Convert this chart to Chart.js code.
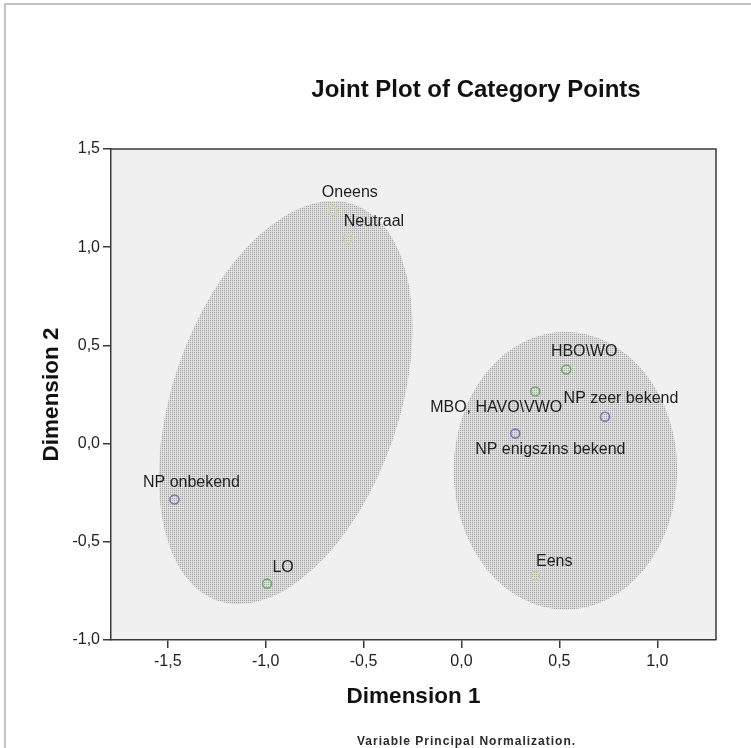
<!DOCTYPE html>
<html>
<head>
<meta charset="utf-8">
<title>Joint Plot of Category Points</title>
<script src="https://cdn.jsdelivr.net/npm/chart.js@4/dist/chart.umd.min.js"></script>
<style>
  html, body { margin: 0; padding: 0; background: #ffffff; }
  canvas { display: block; }
</style>
</head>
<body>
<canvas id="plot" width="751" height="748"></canvas>
<script>
// Category quantifications (Dimension 1, Dimension 2)
const opinionLabels = ['Oneens', 'Neutraal', 'Eens'];
const opinionDim1 = [-0.657, -0.580, 0.377];
const opinionDim2 = [1.186, 1.043, -0.672];

const educationLabels = ['HBO\\WO', 'MBO, HAVO\\VWO', 'LO'];
const educationDim1 = [0.535, 0.377, -0.993];
const educationDim2 = [0.377, 0.265, -0.713];

const awarenessLabels = ['NP zeer bekend', 'NP enigszins bekend', 'NP onbekend'];
const awarenessDim1 = [0.733, 0.275, -1.466];
const awarenessDim2 = [0.137, 0.051, -0.285];

// Axis ticks
const xTicks = [-1.5, -1.0, -0.5, 0.0, 0.5, 1.0];
const yTicks = [-1.0, -0.5, 0.0, 0.5, 1.0, 1.5];

// Cluster ellipses in data units: centre, half-axes (horizontal, vertical), clockwise tilt in degrees
const clusterCentreX = [-0.898, 0.531];
const clusterCentreY = [0.209, -0.138];
const clusterHalfX = [0.579, 0.571];
const clusterHalfY = [1.066, 0.707];
const clusterTilt = [18.9, 0];

// Label placement around each marker (pixels): [dx, dy, align]
const labelPlacement = {
  'Oneens': [17, -18, 'center'],
  'Neutraal': [26, -17, 'center'],
  'Eens': [19, -14, 'center'],
  'HBO\\WO': [18, -18, 'center'],
  'MBO, HAVO\\VWO': [27, 16, 'right'],
  'LO': [16, -16, 'center'],
  'NP zeer bekend': [16, -18, 'center'],
  'NP enigszins bekend': [35, 16, 'center'],
  'NP onbekend': [17, -17, 'center']
};

const FONT = '"Liberation Sans", Arial, Helvetica, sans-serif';
const fmt = v => Number(v).toFixed(1).replace('.', ',').replace('-0,0', '0,0');

function toPoints(xs, ys, names) {
  return xs.map((x, i) => ({ x: x, y: ys[i], name: names[i] }));
}

function ring(color) {
  return {
    showLine: false,
    pointStyle: 'circle',
    pointRadius: 4.5,
    pointHoverRadius: 4.5,
    pointBorderWidth: 1.6,
    pointBorderColor: color,
    pointBackgroundColor: 'rgba(0,0,0,0)'
  };
}

// Fine halftone texture used for the cluster ellipses
function makeTexture(ctx) {
  const t = document.createElement('canvas');
  t.width = 2; t.height = 2;
  const g = t.getContext('2d');
  g.fillStyle = '#d8d8d8'; g.fillRect(0, 0, 2, 2);
  g.fillStyle = '#a6a6a6'; g.fillRect(0, 0, 1, 1);
  g.fillStyle = '#e6e6e6'; g.fillRect(1, 1, 1, 1);
  return ctx.createPattern(t, 'repeat');
}

const backdrop = {
  id: 'backdrop',
  beforeDraw(chart) {
    const { ctx, chartArea: a } = chart;
    ctx.save();
    ctx.fillStyle = '#ffffff';
    ctx.fillRect(0, 0, chart.width, chart.height);
    // page frame (top and left edges)
    ctx.strokeStyle = '#c4c4c4';
    ctx.lineWidth = 2;
    ctx.beginPath();
    ctx.moveTo(5, chart.height);
    ctx.lineTo(5, 4);
    ctx.lineTo(chart.width, 4);
    ctx.stroke();
    // plot background
    ctx.fillStyle = '#f0f0f0';
    ctx.fillRect(a.left, a.top, a.right - a.left, a.bottom - a.top);
    ctx.restore();
  }
};

const clusters = {
  id: 'clusters',
  beforeDatasetsDraw(chart) {
    const { ctx, chartArea: a, scales: { x, y } } = chart;
    const sx = Math.abs(x.getPixelForValue(1) - x.getPixelForValue(0));
    const sy = Math.abs(y.getPixelForValue(1) - y.getPixelForValue(0));
    ctx.save();
    ctx.beginPath();
    ctx.rect(a.left, a.top, a.right - a.left, a.bottom - a.top);
    ctx.clip();
    ctx.fillStyle = makeTexture(ctx);
    clusterCentreX.forEach((cx, i) => {
      ctx.beginPath();
      ctx.ellipse(x.getPixelForValue(cx), y.getPixelForValue(clusterCentreY[i]),
        clusterHalfX[i] * sx, clusterHalfY[i] * sy, clusterTilt[i] * Math.PI / 180, 0, Math.PI * 2);
      ctx.fill();
    });
    ctx.restore();
  }
};

const pointNames = {
  id: 'pointNames',
  afterDatasetsDraw(chart) {
    const { ctx } = chart;
    ctx.save();
    ctx.font = '16px ' + FONT;
    ctx.fillStyle = '#1e1e1e';
    ctx.textBaseline = 'middle';
    chart.data.datasets.forEach((ds, di) => {
      const meta = chart.getDatasetMeta(di);
      meta.data.forEach((el, i) => {
        const name = ds.data[i].name;
        const p = labelPlacement[name] || [0, -16, 'center'];
        ctx.textAlign = p[2];
        ctx.fillText(name, el.x + p[0], el.y + p[1]);
      });
    });
    ctx.restore();
  }
};

const frameAndCaptions = {
  id: 'frameAndCaptions',
  afterDraw(chart) {
    const { ctx, chartArea: a } = chart;
    ctx.save();
    // top and right edges of the plot frame
    ctx.strokeStyle = '#3a3a3a';
    ctx.lineWidth = 1.5;
    ctx.beginPath();
    ctx.moveTo(a.left, a.top);
    ctx.lineTo(a.right, a.top);
    ctx.lineTo(a.right, a.bottom);
    ctx.stroke();
    // chart title
    ctx.fillStyle = '#111111';
    ctx.font = 'bold 24px ' + FONT;
    ctx.textAlign = 'center';
    ctx.textBaseline = 'middle';
    ctx.fillText('Joint Plot of Category Points', 476, 90);
    // normalization note
    ctx.font = 'bold 12px ' + FONT;
    ctx.fillStyle = '#2a2a2a';
    ctx.textAlign = 'left';
    if ('letterSpacing' in ctx) ctx.letterSpacing = '1px';
    ctx.fillText('Variable Principal Normalization.', 357, 742);
    ctx.restore();
  }
};

const axisCommon = {
  type: 'linear',
  grid: { drawOnChartArea: false, drawTicks: true, tickLength: 8, color: '#3a3a3a', lineWidth: 1.5 },
  border: { display: true, color: '#3a3a3a', width: 1.5 },
  ticks: {
    color: '#222222',
    font: { family: FONT, size: 16 },
    autoSkip: false,
    maxRotation: 0,
    callback: v => fmt(v)
  }
};

new Chart(document.getElementById('plot').getContext('2d'), {
  type: 'scatter',
  data: {
    datasets: [
      Object.assign({ label: 'Opinie', data: toPoints(opinionDim1, opinionDim2, opinionLabels) }, ring('#d4cfa2')),
      Object.assign({ label: 'Opleiding', data: toPoints(educationDim1, educationDim2, educationLabels) }, ring('#6eab6e')),
      Object.assign({ label: 'Bekendheid NP', data: toPoints(awarenessDim1, awarenessDim2, awarenessLabels) }, ring('#787ab4'))
    ]
  },
  options: {
    responsive: false,
    animation: false,
    events: [],
    layout: { padding: { left: 0, top: 149, right: 35, bottom: 0 } },
    plugins: {
      legend: { display: false },
      tooltip: { enabled: false },
      title: { display: false }
    },
    scales: {
      x: Object.assign({}, axisCommon, {
        min: -1.79, max: 1.30,
        afterBuildTicks: s => { s.ticks = xTicks.map(v => ({ value: v })); },
        afterFit: s => { s.height = 108; },
        ticks: Object.assign({}, axisCommon.ticks, { padding: 4 }),
        title: { display: true, text: 'Dimension 1', color: '#111111',
                 font: { family: FONT, size: 22.5, weight: 'bold' }, padding: { top: 0, bottom: 37.5 } }
      }),
      y: Object.assign({}, axisCommon, {
        min: -1.0, max: 1.5,
        afterBuildTicks: s => { s.ticks = yTicks.map(v => ({ value: v })); },
        afterFit: s => { s.width = 111; },
        ticks: Object.assign({}, axisCommon.ticks, { padding: 3 }),
        title: { display: true, text: 'Dimension 2', color: '#111111',
                 font: { family: FONT, size: 22.5, weight: 'bold' }, padding: { top: 38.5, bottom: 0 } }
      })
    }
  },
  plugins: [backdrop, clusters, pointNames, frameAndCaptions]
});
</script>
</body>
</html>
